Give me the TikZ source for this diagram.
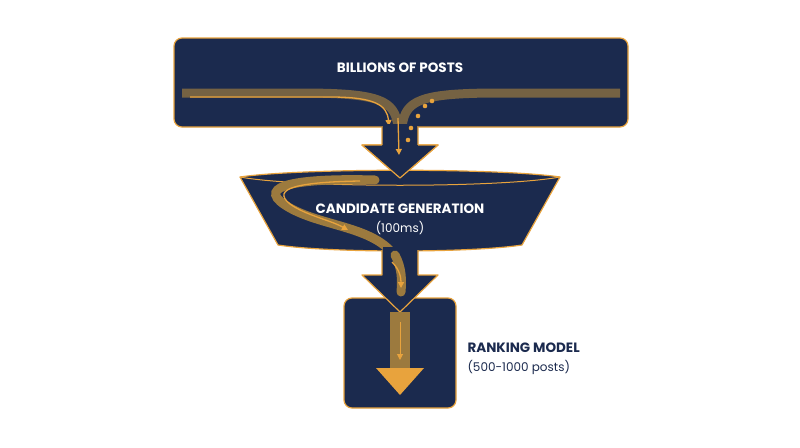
\documentclass[tikz,border=0pt]{standalone}
\usepackage{fontspec}
\setmainfont{Poppins}
\usetikzlibrary{arrows.meta}
\definecolor{navy}{HTML}{1B2A4E}
\definecolor{gold}{HTML}{E8A33D}
\definecolor{bandc}{HTML}{9C7A3E}
\begin{document}
\begin{tikzpicture}[x=1pt,y=-1pt,
  blk/.style={fill=navy,draw=gold,line width=1.2pt,line join=round},
  band/.style={draw=bandc,line width=9pt,line cap=round},
  flow/.style={draw=gold,line width=1.3pt,-{Triangle[length=6pt,width=6pt]}},
  lbl/.style={text=white,font=\bfseries\fontsize{13.5}{15}\selectfont}]
\useasboundingbox (0,0) rectangle (800,447);
% top box
\draw[blk,rounded corners=8] (174,38) rectangle (628,127);
\node[lbl] (top) at (400,68) {BILLIONS OF POSTS};
\draw[band,draw=bandc!70!navy,line cap=butt] (182,93) -- (300,93) .. controls (380,93) and (395,100) .. (398,127);
\draw[band,draw=bandc!70!navy,line cap=butt] (620,93) -- (500,93) .. controls (420,93) and (405,100) .. (402,127);
\draw[flow] (190,97) -- (330,97) .. controls (375,97) and (387,105) .. (389,126);
% arrow 1
\draw[blk] (382,127) -- (382,145) -- (362,145) -- (400,178) -- (438,145) -- (418,145) -- (418,127);
\fill[navy] (383,124) rectangle (417,130);
% funnel
\draw[blk] (240,177) -- (278,245) .. controls (330,253) and (470,253) .. (522,245) -- (560,177) .. controls (500,168) and (300,168) .. (240,177) -- cycle;
\draw[draw=gold,line width=1pt] (240,177) .. controls (300,188) and (500,188) .. (560,177);
% arrow 1 head over funnel
\fill[navy] (362,145) -- (400,178) -- (438,145) -- cycle;
\fill[navy] (383,140) rectangle (417,146);
\draw[gold,line width=1.2pt,line join=round] (382,145) -- (362,145) -- (400,178) -- (438,145) -- (418,145);
\draw[flow] (398,118) -- (399,155);
\foreach \p in {(432,101),(425,106),(418,116),(411,128),(408,140)} \fill[gold] \p circle (2.3);
\node[lbl] (cand) at (400,209) {CANDIDATE GENERATION};
\node[text=white,font=\fontsize{12}{14}\selectfont] (ms) at (400,228) {(100ms)};
% swirl
\draw[band] (375,180) .. controls (300,178) and (255,185) .. (285,205) .. controls (320,228) and (380,225) .. (398,262);
\draw[flow] (360,181) .. controls (300,182) and (270,188) .. (290,204) .. controls (305,215) and (330,220) .. (348,230);
% bottom box
\draw[blk,rounded corners=8] (344,298) rectangle (456,408);
% arrow 2
\draw[blk] (382,250) -- (382,275) -- (362,275) -- (400,312) -- (438,275) -- (418,275) -- (418,250);
\fill[navy] (383,247) rectangle (417,253);
\draw[band] (395,255) .. controls (402,268) and (402,280) .. (401,292);
\draw[flow] (392,262) .. controls (400,270) and (401,278) .. (401,288);
% orange arrow in box
\fill[bandc] (390,312) -- (410,312) -- (410,368) -- (390,368) -- cycle;
\fill[gold] (390,368) -- (376,368) -- (400,395) -- (424,368) -- (410,368) -- cycle;
\draw[flow,line width=1pt] (400,322) -- (400,360);
\node[anchor=west,text=navy,font=\bfseries\fontsize{13.5}{15}\selectfont] (rk) at (464,348) {RANKING MODEL};
\node[anchor=west,text=navy,font=\fontsize{12}{14}\selectfont] (rk2) at (464,367) {(500-1000 posts)};
\end{tikzpicture}
\end{document}
